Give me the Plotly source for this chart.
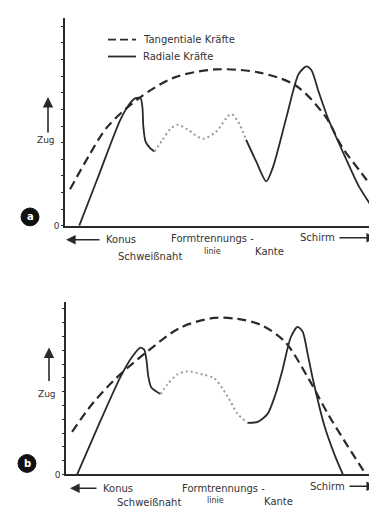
import plotly.graph_objects as go

W, H = 377, 508

# ---------------- data (arbitrary units: x = position 0..100, y = Zug 0..100) ----------------
# Panel a
a_tang_x = [1.6, 7.5, 13.4, 23.9, 34.7, 47.5, 61.1, 72.9, 82.5, 87.6, 94.0, 100.0]
a_tang_y = [17.6, 33.5, 47.6, 61.9, 71.4, 75.2, 73.8, 67.6, 52.4, 38.1, 25.0, 12.9]

a_rad1_x = [4.5, 10.2, 17.5, 20.4, 22.3, 23.9, 24.5, 24.8, 25.5, 27.1, 28.3]
a_rad1_y = [0.0, 22.4, 51.0, 58.6, 61.4, 61.4, 57.1, 47.6, 40.5, 37.1, 35.7]
a_dot_x = [28.3, 30.9, 33.4, 35.7, 38.9, 43.6, 47.8, 52.5, 54.8, 57.3]
a_dot_y = [35.7, 41.4, 46.7, 48.6, 46.2, 41.9, 45.2, 53.8, 50.0, 41.4]
a_rad2_x = [57.3, 60.5, 63.7, 65.9, 70.1, 73.9, 76.4, 78.0, 80.3, 83.4, 87.6, 93.0, 99.4, 99.7]
a_rad2_y = [41.4, 31.0, 21.4, 28.6, 52.4, 72.9, 76.7, 74.8, 64.3, 51.0, 36.7, 19.0, 3.3, 0.0]

# Panel b
b_tang_x = [1.9, 8.2, 16.0, 25.5, 35.8, 46.5, 53.8, 61.0, 68.6, 75.8, 82.1, 88.4, 94.0]
b_tang_y = [24.7, 40.8, 56.3, 71.3, 85.1, 90.8, 90.2, 86.8, 77.0, 56.3, 35.1, 16.1, 0.0]

b_rad1_x = [3.5, 9.7, 17.0, 20.8, 23.3, 24.5, 25.2, 25.8, 26.7, 29.6]
b_rad1_y = [0.0, 26.4, 56.3, 68.4, 73.6, 72.4, 66.7, 56.9, 50.6, 46.6]
b_dot_x = [29.6, 31.8, 34.9, 38.1, 42.8, 46.5, 50.6, 53.8, 56.9]
b_dot_y = [46.6, 52.3, 58.0, 59.8, 58.0, 55.7, 45.4, 35.1, 29.9]
b_rad2_x = [56.9, 60.1, 63.2, 65.7, 67.9, 70.4, 72.6, 74.2, 75.8, 77.4, 81.1, 84.3, 86.8]
b_rad2_y = [29.9, 30.5, 35.1, 46.6, 60.9, 79.3, 85.6, 82.8, 69.5, 55.2, 27.6, 10.9, 0.0]

legend_labels = ["Tangentiale Kräfte", "Radiale Kräfte"]
region_top = ["Konus", "Formtrennungs -", "Schirm"]
region_bottom = ["Schweißnaht", "linie", "Kante"]
y_label = "Zug"

# ---------------- styling ----------------
INK = "#2a2a2a"
DOT = "#9a9a9a"
FONT = "DejaVu Sans"


def px(x):
    return x / W


def py(y):
    return 1 - y / H


fig = go.Figure()

def add_panel(xa, ya, tx, ty, r1x, r1y, dx, dy, r2x, r2y):
    fig.add_trace(go.Scatter(x=tx, y=ty, mode="lines", xaxis=xa, yaxis=ya,
                             line=dict(color=INK, width=2.2, dash="9px,5px", shape="spline", smoothing=0.9),
                             showlegend=False, hoverinfo="skip"))
    for xs, ys in ((r1x, r1y), (r2x, r2y)):
        fig.add_trace(go.Scatter(x=xs, y=ys, mode="lines", xaxis=xa, yaxis=ya,
                                 line=dict(color=INK, width=1.8, shape="spline", smoothing=0.7),
                                 showlegend=False, hoverinfo="skip"))
    fig.add_trace(go.Scatter(x=dx, y=dy, mode="lines", xaxis=xa, yaxis=ya,
                             line=dict(color=DOT, width=2, dash="2px,3px", shape="spline", smoothing=0.8),
                             showlegend=False, hoverinfo="skip"))


add_panel("x", "y", a_tang_x, a_tang_y, a_rad1_x, a_rad1_y, a_dot_x, a_dot_y, a_rad2_x, a_rad2_y)
add_panel("x2", "y2", b_tang_x, b_tang_y, b_rad1_x, b_rad1_y, b_dot_x, b_dot_y, b_rad2_x, b_rad2_y)

axis_common = dict(showgrid=False, zeroline=False, showline=True, linecolor=INK, linewidth=1.5)
ytick_vals = [0, 8, 16, 24, 32, 40, 48, 56, 64, 72, 80, 88, 96]

fig.update_layout(
    width=W, height=H,
    margin=dict(l=0, r=0, t=0, b=0),
    paper_bgcolor="white", plot_bgcolor="rgba(0,0,0,0)",
    font=dict(family=FONT, color="#333", size=10),
    xaxis=dict(domain=[px(57), px(373)], range=[0, 100], showticklabels=False, ticks="", anchor="y", **axis_common),
    yaxis=dict(domain=[py(220), py(10)], range=[0, 100], anchor="x", ticks="outside", ticklen=2,
               tickcolor=INK, tickvals=ytick_vals, ticktext=["0"] + [""] * (len(ytick_vals) - 1),
               tickfont=dict(size=9, color="#333"), **axis_common),
    xaxis2=dict(domain=[px(58), px(377)], range=[0, 100], showticklabels=False, ticks="", anchor="y2", **axis_common),
    yaxis2=dict(domain=[py(471), py(297)], range=[0, 100], anchor="x2", ticks="outside", ticklen=2,
                tickcolor=INK, tickvals=ytick_vals, ticktext=["0"] + [""] * (len(ytick_vals) - 1),
                tickfont=dict(size=9, color="#333"), **axis_common),
)

shapes = []
annotations = []

# legend (panel a)
shapes.append(dict(type="line", xref="paper", yref="paper", x0=px(100), x1=px(128), y0=py(32), y1=py(32),
                   line=dict(color=INK, width=1.8, dash="8px,4px")))
shapes.append(dict(type="line", xref="paper", yref="paper", x0=px(100), x1=px(128), y0=py(49), y1=py(49),
                   line=dict(color=INK, width=1.8)))
for lab, yy in zip(legend_labels, (32, 49)):
    annotations.append(dict(text=lab, xref="paper", yref="paper", x=px(133), y=py(yy), xanchor="left",
                            yanchor="middle", showarrow=False, font=dict(size=10)))

# panel marks (filled circles with letter)
for letter, cx, cy in (("a", 22, 211), ("b", 19, 460)):
    shapes.append(dict(type="circle", xref="paper", yref="paper", x0=px(cx - 9), x1=px(cx + 9),
                       y0=py(cy + 9), y1=py(cy - 9), fillcolor="#111", line=dict(color="#111", width=1)))
    annotations.append(dict(text="<b>%s</b>" % letter, xref="paper", yref="paper", x=px(cx), y=py(cy),
                            xanchor="center", yanchor="middle", showarrow=False,
                            font=dict(size=10, color="white")))


def panel_labels(zug_x, zug_y, arr_top, arr_bot, top_pos, bottom_pos, left_arrow, right_arrow):
    # Zug arrow and label
    annotations.append(dict(text="", xref="paper", yref="paper", x=px(zug_x), y=py(arr_top),
                            ax=0, ay=arr_bot - arr_top, showarrow=True, arrowhead=2, arrowsize=1.3,
                            arrowwidth=1.6, arrowcolor=INK))
    annotations.append(dict(text=y_label, xref="paper", yref="paper", x=px(zug_x - 2), y=py(zug_y),
                            xanchor="center", yanchor="middle", showarrow=False, font=dict(size=9)))
    for lab, (cx, cy) in zip(region_top, top_pos):
        annotations.append(dict(text=lab, xref="paper", yref="paper", x=px(cx), y=py(cy),
                                xanchor="center", yanchor="middle", showarrow=False, font=dict(size=10)))
    for i, (lab, (cx, cy)) in enumerate(zip(region_bottom, bottom_pos)):
        annotations.append(dict(text=lab, xref="paper", yref="paper", x=px(cx), y=py(cy),
                                xanchor="center", yanchor="middle", showarrow=False,
                                font=dict(size=8 if i == 1 else 10)))
    # left arrow (head at left)
    lx0, lx1, ly = left_arrow
    annotations.append(dict(text="", xref="paper", yref="paper", x=px(lx0), y=py(ly), ax=lx1 - lx0, ay=0,
                            showarrow=True, arrowhead=2, arrowsize=1.2, arrowwidth=1.6, arrowcolor=INK))
    rx0, rx1, ry = right_arrow
    annotations.append(dict(text="", xref="paper", yref="paper", x=px(rx1), y=py(ry), ax=rx0 - rx1, ay=0,
                            showarrow=True, arrowhead=2, arrowsize=1.2, arrowwidth=1.6, arrowcolor=INK))


panel_labels(40, 133, 90, 127,
             [(113, 234), (205, 233), (309, 232)],
             [(142, 251), (205, 246), (261, 246)],
             (58, 93, 234), (330, 368, 232))
panel_labels(41, 390, 343, 378,
             [(110, 485), (215, 485), (319, 483)],
             [(141, 499), (207, 497), (270, 498)],
             (62, 90, 485), (340, 368, 483))

fig.update_layout(shapes=shapes, annotations=annotations)

fig.write_html("out.html")
